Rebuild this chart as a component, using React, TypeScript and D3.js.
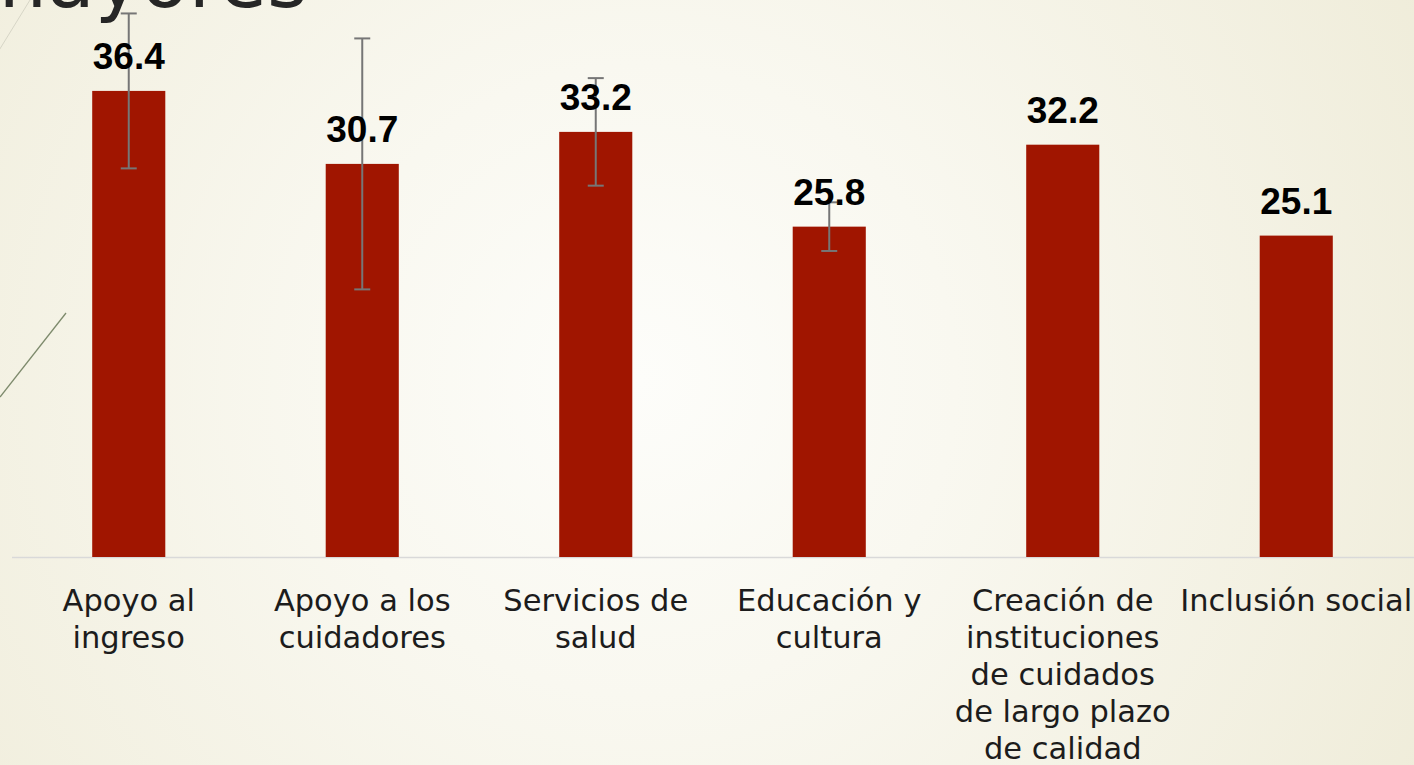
import React from "react";
import * as d3 from "d3";

const categories: string[][] = [
  ["Apoyo al", "ingreso"],
  ["Apoyo a los", "cuidadores"],
  ["Servicios de", "salud"],
  ["Educación y", "cultura"],
  ["Creación de", "instituciones", "de cuidados", "de largo plazo", "de calidad"],
  ["Inclusión social"],
];
const values: number[] = [36.4, 30.7, 33.2, 25.8, 32.2, 25.1];
const errors: (number | null)[] = [6.05, 9.8, 4.2, 1.9, null, null];
const valueLabels: string[] = ["36.4", "30.7", "33.2", "25.8", "32.2", "25.1"];

const W = 1414;
const H = 765;

export default function App() {
  const keys = categories.map((_, i) => String(i));
  const x = d3
    .scaleBand<string>()
    .domain(keys)
    .range([12, 1413])
    .paddingInner(0.687)
    .paddingOuter(0.3435);
  const y = d3.scaleLinear().domain([0, 43.5]).range([557, 0]);
  const bw = x.bandwidth();

  return (
    <svg
      width={W}
      height={H}
      style={{ position: "absolute", left: 0, top: 0 }}
      viewBox={`0 0 ${W} ${H}`}
    >
      <defs>
        <radialGradient id="bg" cx="640" cy="380" r="900" gradientUnits="userSpaceOnUse">
          <stop offset="0" stopColor="#fdfdfa" />
          <stop offset="0.35" stopColor="#f9f8f0" />
          <stop offset="1" stopColor="#efecd9" />
        </radialGradient>
      </defs>
      <rect x={0} y={0} width={W} height={H} fill="url(#bg)" />

      {/* decorative lines */}
      <line x1={-2} y1={52} x2={30} y2={0} stroke="#d6d5c6" strokeWidth={1} />
      <line x1={0} y1={397} x2={66} y2={313} stroke="#7d8a6c" strokeWidth={1.3} />

      {/* cut-off title */}
      <text
        x={-29}
        y={7}
        fontFamily="DejaVu Sans"
        fontSize={78}
        fill="#262626"
      >
        mayores
      </text>

      {/* axis line */}
      <line x1={12} y1={557.5} x2={1414} y2={557.5} stroke="#d9d9d9" strokeWidth={1.5} />

      {values.map((v, i) => {
        const x0 = x(keys[i]) as number;
        const cx = x0 + bw / 2;
        const top = y(v);
        return (
          <g key={i}>
            <rect x={x0} y={top} width={bw} height={y(0) - top} fill="#a01500" />
          </g>
        );
      })}

      {values.map((v, i) => {
        const e = errors[i];
        if (e == null) return null;
        const cx = (x(keys[i]) as number) + bw / 2;
        const y1 = y(v + e);
        const y2 = y(v - e);
        return (
          <g key={"e" + i} stroke="#767676" strokeWidth={2}>
            <line x1={cx} y1={y1} x2={cx} y2={y2} />
            <line x1={cx - 8} y1={y1} x2={cx + 8} y2={y1} />
            <line x1={cx - 8} y1={y2} x2={cx + 8} y2={y2} />
          </g>
        );
      })}

      {values.map((v, i) => {
        const cx = (x(keys[i]) as number) + bw / 2;
        return (
          <text
            key={"v" + i}
            x={cx}
            y={y(v) - 22}
            textAnchor="middle"
            fontFamily="Liberation Sans, Arial, sans-serif"
            fontWeight="bold"
            fontSize={37}
            fill="#000"
          >
            {valueLabels[i]}
          </text>
        );
      })}

      {categories.map((lines, i) => {
        const cx = (x(keys[i]) as number) + bw / 2;
        return (
          <text
            key={"c" + i}
            x={cx}
            y={611}
            textAnchor="middle"
            fontFamily="DejaVu Sans"
            fontSize={30.5}
            fill="#1c1c1c"
          >
            {lines.map((l, j) => (
              <tspan key={j} x={cx} dy={j === 0 ? 0 : 37}>
                {l}
              </tspan>
            ))}
          </text>
        );
      })}
    </svg>
  );
}
